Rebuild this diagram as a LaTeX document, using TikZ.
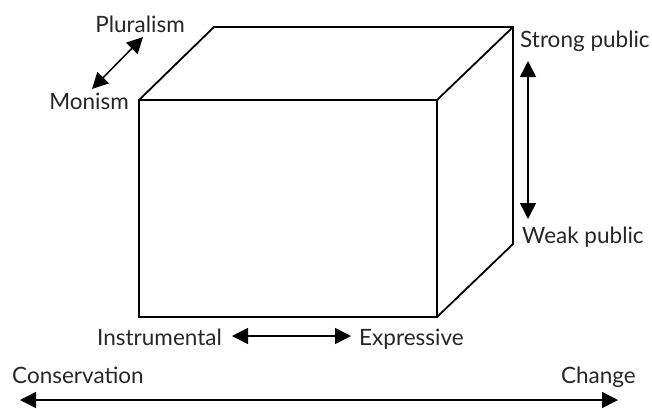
\documentclass[tikz,border=0pt]{standalone}
\usepackage{fontspec}
\setmainfont{Lato}
\usetikzlibrary{arrows.meta}
\begin{document}
\begin{tikzpicture}[x=1pt,y=-1pt,
  boxline/.style={line width=1.8pt,line join=miter},
  dbl/.style={line width=1.5pt,{Triangle[length=16pt,width=16pt]}-{Triangle[length=16pt,width=16pt]}},
  lbl/.style={inner sep=0pt,font=\fontsize{22.5}{26}\selectfont,text=black!85}]
\useasboundingbox (0,0) rectangle (652,408);
% box corners
\coordinate (ftl) at (139,100);
\coordinate (ftr) at (437,100);
\coordinate (fbr) at (437,317);
\coordinate (fbl) at (139,317);
\coordinate (btl) at (214,27);
\coordinate (btr) at (513,27);
\coordinate (bbr) at (513,244);
\draw[boxline] (ftl) rectangle (fbr);
\draw[boxline] (ftl) -- (btl) -- (btr) -- (bbr) -- (fbr);
\draw[boxline] (ftr) -- (btr);
% labels
\node[lbl,anchor=base] (plu) at (140,32) {Pluralism};
\node[lbl,anchor=base east] (mon) at (129,109) {Monism};
\node[lbl,anchor=base west] (str) at (520,47) {Strong public};
\node[lbl,anchor=base west] (wea) at (522,243) {Weak public};
\node[lbl,anchor=base east] (ins) at (222,345) {Instrumental};
\node[lbl,anchor=base west] (exp) at (359,345) {Expressive};
\node[lbl,anchor=base west] (con) at (12,383) {Conservation};
\node[lbl,anchor=base east] (cha) at (636,383) {Change};
% arrow ends
\coordinate (a1) at (92,89);
\coordinate (a2) at (143,37);
\coordinate (b1) at (528,61);
\coordinate (b2) at (528,219);
\coordinate (c1) at (232,336);
\coordinate (c2) at (351,336);
\coordinate (d1) at (20,400);
\coordinate (d2) at (618,400);
\draw[dbl] (a1) -- (a2);
\draw[dbl] (b1) -- (b2);
\draw[dbl] (c1) -- (c2);
\draw[dbl] (d1) -- (d2);
\end{tikzpicture}
\end{document}
